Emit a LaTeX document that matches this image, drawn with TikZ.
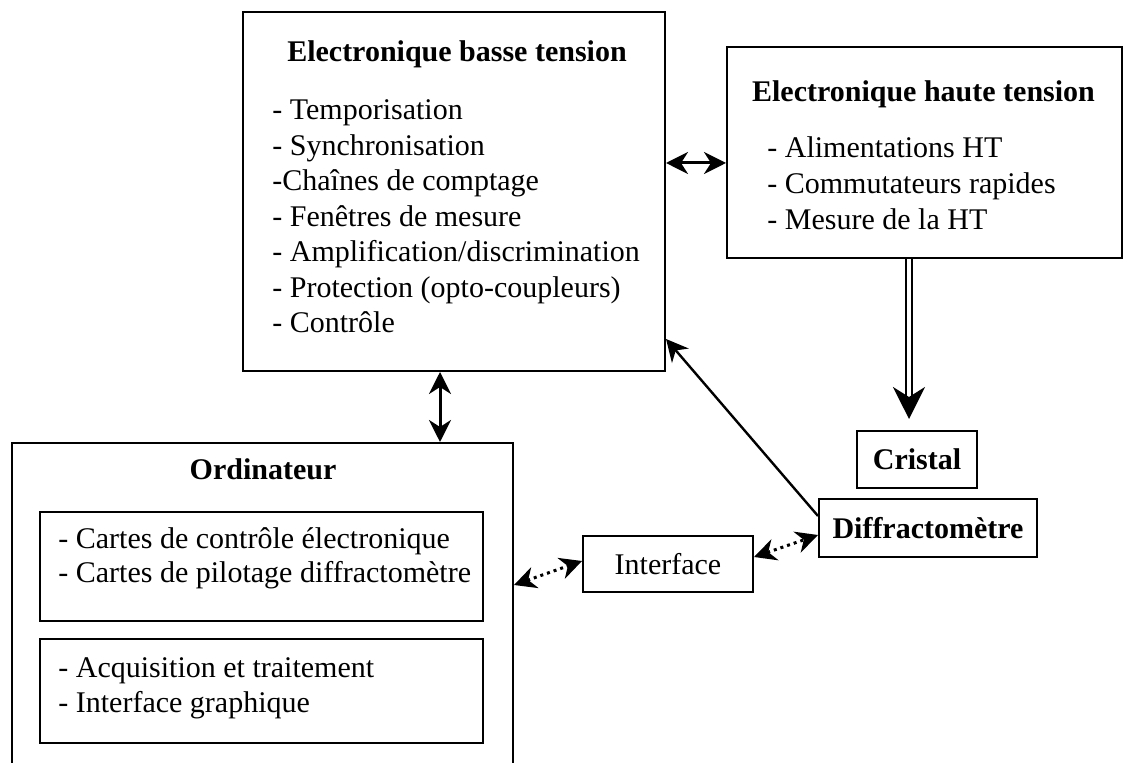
\documentclass[tikz,border=0pt]{standalone}
\usepackage{fontspec}
\setmainfont{Liberation Serif}
\usetikzlibrary{arrows.meta}

\tikzset{
  >={Stealth[length=11pt,width=11pt,inset=3.5pt]},
  box/.style={draw, line width=1pt, inner sep=0pt, font=\fontsize{15}{17.75}\selectfont},
  txt/.style={inner sep=0pt, anchor=base west, font=\fontsize{15}{17.75}\selectfont},
  ttl/.style={inner sep=0pt, anchor=base, font=\fontsize{15}{17.75}\selectfont\bfseries},
  link/.style={line width=1.5pt, <->},
  feed/.style={line width=1.2pt, ->},
  dlink/.style={line width=1.5pt, dotted, <->},
  hv/.style={double, double distance=2pt, line width=1pt, -{Stealth[length=16pt,width=16pt,inset=5pt]}}
}

\begin{document}
\begin{tikzpicture}[x=0.5pt, y=-0.5pt]
  \useasboundingbox (0,0) rectangle (1135,763);
  \clip (0,0) rectangle (1135,763);

  % boxes
  \node[box, minimum width=211pt, minimum height=179.5pt] (ebt) at (454,191.5) {};
  \node[box, minimum width=197.5pt, minimum height=105.5pt] (eht) at (924.5,152.5) {};
  \node[box, minimum width=250.5pt, minimum height=180pt] (ord) at (262.5,623) {};
  \node[box, minimum width=221.5pt, minimum height=54.5pt] (cartes) at (261.5,566.5) {};
  \node[box, minimum width=221.5pt, minimum height=52pt] (logiciel) at (261.5,691) {};
  \node[box, font=\fontsize{15}{17.75}\selectfont\bfseries, minimum width=60pt, minimum height=28.5pt] (cri) at (917,459.5) {Cristal};
  \node[box, font=\fontsize{15}{17.75}\selectfont\bfseries, minimum width=109pt, minimum height=29pt] (diff) at (928,528) {Diffractomètre};
  \node[box, minimum width=85pt, minimum height=28pt] (ifc) at (668,564) {Interface};

  % titles
  \node[ttl] (ebtT) at (457,62) {Electronique basse tension};
  \node[ttl] (ehtT) at (923.5,102) {Electronique haute tension};
  \node[ttl] (ordT) at (263,480) {Ordinateur};

  % lists
  \foreach \t [count=\i from 0] in {- Temporisation, - Synchronisation, -Chaînes de comptage,
      - Fenêtres de mesure, - Amplification/discrimination, - Protection (opto-coupleurs), - Contrôle}
    \node[txt] (ebt\i) at (272,{120+35.5*\i}) {\t};
  \foreach \t [count=\i from 0] in {- Alimentations HT, - Commutateurs rapides, - Mesure de la HT}
    \node[txt] (eht\i) at (767,{158+36*\i}) {\t};
  \foreach \t [count=\i from 0] in {- Cartes de contrôle électronique, - Cartes de pilotage diffractomètre}
    \node[txt] (cartes\i) at (58,{549+34*\i}) {\t};
  \foreach \t [count=\i from 0] in {- Acquisition et traitement, - Interface graphique}
    \node[txt] (logiciel\i) at (58,{678+35*\i}) {\t};

  % connectors
  \draw[link] (ebt.east |- 0,163) -- (eht.west |- 0,163);
  \draw[link] (ebt.south -| 440,0) -- (ord.north -| 440,0);
  \draw[hv, shorten >=5.5pt] (eht.south -| 909,0) -- (cri.north -| 909,0);
  \draw[feed] ([yshift=-9pt]diff.north west) -- ([yshift=16.5pt]ebt.south east);
  \draw[dlink] (ord.east |- 0,585) -- (ifc.west |- 0,561);
  \draw[dlink] (ifc.east |- 0,557) -- (diff.west |- 0,535);
\end{tikzpicture}
\end{document}
